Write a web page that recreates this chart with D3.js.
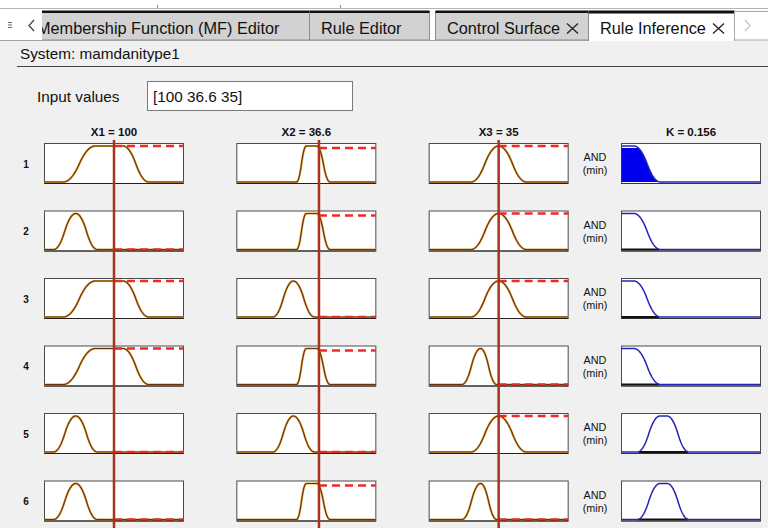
<!DOCTYPE html>
<html>
<head>
<meta charset="utf-8">
<script src="https://cdn.jsdelivr.net/npm/d3@7"></script>
<style>
  body { margin: 0; background: #f0f0f0; }
  svg { display: block; font-family: "Liberation Sans", Arial, sans-serif; }
</style>
</head>
<body>
<div class="main"></div>
<script>
const inputNames = ["X1", "X2", "X3"];
const inputValues = [100, 36.6, 35];
const inputRanges = [[0, 200], [34, 38.4], [0, 70]];
const outputName = "K";
const outputValue = 0.156;
const outputRange = [0, 1];
const ruleLabels = ["1", "2", "3", "4", "5", "6"];

// pi-shaped MF params [a, b, c, d]
const x1MFs = { low: [13, 45, 45, 76], high: [27, 73, 113, 150] };
const x2MFs = { normal: [35.14, 35.79, 35.79, 36.46], high: [35.89, 36.2, 36.53, 36.95] };
const x3MFs = { low: [16.5, 25.9, 25.9, 34], mid: [21, 35, 35, 49] };
const kMFs = { low: [0, 0, 0.09, 0.28], mid: [0.114, 0.277, 0.329, 0.484] };

// which MF each rule uses
const ruleX1 = ["high", "low", "high", "high", "low", "low"];
const ruleX2 = ["high", "high", "normal", "high", "normal", "high"];
const ruleX3 = ["mid", "mid", "mid", "low", "mid", "low"];
const ruleK = ["low", "low", "low", "low", "mid", "mid"];

const tabs = [
  { label: "Membership Function (MF) Editor", x0: 37, x1: 309, active: false, close: false },
  { label: "Rule Editor", x0: 309, x1: 429, active: false, close: false },
  { label: "Control Surface", x0: 435, x1: 588, active: false, close: true },
  { label: "Rule Inference", x0: 588, x1: 734, active: true, close: true }
];

function smf(x, a, b) {
  if (x >= b) return 1;
  if (x <= a) return 0;
  const t = (x - a) / (b - a);
  return t <= 0.5 ? 2 * t * t : 1 - 2 * (1 - t) * (1 - t);
}
function pimf(x, p) {
  return smf(x, p[0], p[1]) * (1 - smf(x, p[2], p[3]));
}

const rules = ruleLabels.map(function(lab, i) {
  const mfs = [x1MFs[ruleX1[i]], x2MFs[ruleX2[i]], x3MFs[ruleX3[i]]];
  const mu = mfs.map(function(p, j) { return pimf(inputValues[j], p); });
  return { label: lab, mfs: mfs, mu: mu, w: d3.min(mu), out: kMFs[ruleK[i]] };
});

const W = 768, H = 528;
const svg = d3.select(".main").append("svg")
  .attr("width", W).attr("height", H)
  .attr("viewBox", "0 0 " + W + " " + H);

svg.append("rect").attr("width", W).attr("height", H).attr("fill", "#f0f0f0");

// ---- tab strip ----
svg.append("rect").attr("x", 0).attr("y", 0).attr("width", W).attr("height", 40).attr("fill", "#fff");
svg.append("line").attr("x1", 0).attr("x2", W).attr("y1", 8.5).attr("y2", 8.5).attr("stroke", "#b4b4b4");
[157, 340].forEach(function(x) {
  svg.append("line").attr("x1", x + 0.5).attr("x2", x + 0.5).attr("y1", 5).attr("y2", 8).attr("stroke", "#8c8c8c");
});

const tabG = svg.append("g");
tabs.forEach(function(t) {
  tabG.append("rect")
    .attr("x", t.x0 + 0.5).attr("y", 11.5)
    .attr("width", t.x1 - t.x0).attr("height", t.active ? 29 : 28.5)
    .attr("fill", t.active ? "#fff" : "#d2d2d2")
    .attr("stroke", "#8e8e8e");
  tabG.append("rect")
    .attr("x", t.x0 + 0.5).attr("y", 10.5)
    .attr("width", t.x1 - t.x0).attr("height", t.active ? 3 : 2.5)
    .attr("fill", "#111");
  const tx = t.x0 === 37 ? 37 : t.x0 + 12;
  tabG.append("text")
    .attr("x", tx).attr("y", 34)
    .attr("font-size", 16.3).attr("fill", "#111")
    .text(t.label);
  if (t.close) {
    const cx = t.x1 - 15.5, cy = 28.5;
    tabG.append("path")
      .attr("d", "M" + (cx - 5.5) + "," + (cy - 5) + "L" + (cx + 5.5) + "," + (cy + 5) +
                 "M" + (cx + 5.5) + "," + (cy - 5) + "L" + (cx - 5.5) + "," + (cy + 5))
      .attr("stroke", "#222").attr("stroke-width", 1.3).attr("fill", "none");
  }
});
// cover the active tab bottom border
svg.append("rect").attr("x", 589).attr("y", 39).attr("width", 145).attr("height", 2).attr("fill", "#fff");

// left scroller
svg.append("rect").attr("x", 0).attr("y", 10).attr("width", 42).attr("height", 30).attr("fill", "#fff");
[22.5, 25, 27.5].forEach(function(y) {
  svg.append("line").attr("x1", 8).attr("x2", 12).attr("y1", y).attr("y2", y).attr("stroke", "#666").attr("stroke-width", 1);
});
svg.append("path").attr("d", "M34,20 L29,25.5 L34,31").attr("fill", "none").attr("stroke", "#444").attr("stroke-width", 1.3);

// right scroller
svg.append("rect").attr("x", 734.5).attr("y", 11.5).attr("width", 40).attr("height", 28.5)
  .attr("fill", "#fff").attr("stroke", "#a8a8a8");
svg.append("path").attr("d", "M745,20 L750,25.5 L745,31").attr("fill", "none").attr("stroke", "#c4c4c4").attr("stroke-width", 1.2);
svg.append("line").attr("x1", 0).attr("x2", 588).attr("y1", 40.5).attr("y2", 40.5).attr("stroke", "#a0a0a0");
svg.append("rect").attr("x", 0).attr("y", 41).attr("width", W).attr("height", 30).attr("fill", "#f0f0f0");

// ---- system header and input field ----
svg.append("text").attr("x", 20).attr("y", 59).attr("font-size", 15.3).attr("fill", "#111")
  .text("System: mamdanitype1");
svg.append("line").attr("x1", 17).attr("x2", W).attr("y1", 66.5).attr("y2", 66.5).attr("stroke", "#444");

svg.append("text").attr("x", 37).attr("y", 102).attr("font-size", 15.3).attr("fill", "#111")
  .text("Input values");
svg.append("rect").attr("x", 147.5).attr("y", 81.5).attr("width", 205).attr("height", 29)
  .attr("fill", "#fff").attr("stroke", "#7a7a7a");
svg.append("text").attr("x", 153).attr("y", 102).attr("font-size", 15.3).attr("fill", "#111")
  .text("[" + inputValues.join(" ") + "]");

// ---- rule viewer grid ----
const boxW = 139, boxH = 40;
const colScale = d3.scaleLinear().domain([0, 3]).range([44.5, 621.5]);
const rowScale = d3.scaleLinear().domain([0, 1]).range([143.5, 211]);

const titles = inputNames.map(function(n, j) { return n + " = " + inputValues[j]; })
  .concat([outputName + " = " + outputValue]);
svg.selectAll(".title").data(titles).enter().append("text")
  .attr("class", "title")
  .attr("x", function(d, j) { return colScale(j) + boxW / 2; })
  .attr("y", 135.5)
  .attr("text-anchor", "middle")
  .attr("font-size", 11.5).attr("font-weight", "bold").attr("fill", "#111")
  .text(function(d) { return d; });

function cellScales(j, i, dom) {
  const x0 = colScale(j), top = rowScale(i);
  return {
    x: d3.scaleLinear().domain(dom).range([x0, x0 + boxW]),
    y: d3.scaleLinear().domain([0, 1]).range([top + 38.5, top + 2.5]),
    x0: x0, top: top
  };
}
function samples(dom) {
  return d3.range(0, 281).map(function(k) { return dom[0] + (dom[1] - dom[0]) * k / 280; });
}

const grid = svg.append("g");
const redLines = svg.append("g");

rules.forEach(function(r, i) {
  const top = rowScale(i);
  grid.append("text")
    .attr("x", 26).attr("y", top + 24)
    .attr("text-anchor", "middle")
    .attr("font-size", 10).attr("font-weight", "bold").attr("fill", "#111")
    .text(r.label);

  // inputs
  r.mfs.forEach(function(p, j) {
    const s = cellScales(j, i, inputRanges[j]);
    grid.append("rect").attr("x", s.x0).attr("y", top).attr("width", boxW).attr("height", boxH)
      .attr("fill", "#fff").attr("stroke", "#4a4a4a");
    const pts = samples(inputRanges[j]);
    const line = d3.line().x(function(x) { return s.x(x); }).y(function(x) { return s.y(pimf(x, p)); });
    grid.append("path").attr("d", line(pts)).attr("fill", "none")
      .attr("stroke", "#d8a040").attr("stroke-width", 2.2);
    grid.append("path").attr("d", line(pts)).attr("fill", "none")
      .attr("stroke", "#6e3206").attr("stroke-width", 1.1);
    grid.append("line")
      .attr("x1", s.x(inputValues[j])).attr("x2", s.x0 + boxW)
      .attr("y1", s.y(r.mu[j])).attr("y2", s.y(r.mu[j]))
      .attr("stroke", "#f02828").attr("stroke-width", 2.4).attr("stroke-dasharray", "8,5");
    grid.append("line").attr("x1", s.x0).attr("x2", s.x0 + boxW)
      .attr("y1", top + boxH).attr("y2", top + boxH).attr("stroke", "#222").attr("stroke-width", 1.2);
  });

  // AND (min)
  grid.append("text").attr("x", 595).attr("y", top + 17.5).attr("text-anchor", "middle")
    .attr("font-size", 10.8).attr("fill", "#111").text("AND");
  grid.append("text").attr("x", 595).attr("y", top + 30.5).attr("text-anchor", "middle")
    .attr("font-size", 10.8).attr("fill", "#111").text("(min)");

  // output
  const s = cellScales(3, i, outputRange);
  grid.append("rect").attr("x", s.x0).attr("y", top).attr("width", boxW).attr("height", boxH)
    .attr("fill", "#fff").attr("stroke", "#4a4a4a");
  const pts = samples(outputRange);
  const support = pts.filter(function(x) { return pimf(x, r.out) > 0.002; });
  if (r.w > 0) {
    const area = d3.area().x(function(x) { return s.x(x); })
      .y0(s.y(0)).y1(function(x) { return s.y(Math.min(r.w, pimf(x, r.out))); });
    grid.append("path").attr("d", area(pts)).attr("fill", "#0000f0");
  } else {
    grid.append("line")
      .attr("x1", s.x(d3.min(support))).attr("x2", s.x(d3.max(support)))
      .attr("y1", s.y(0)).attr("y2", s.y(0))
      .attr("stroke", "#111").attr("stroke-width", 1.8);
  }
  const oline = d3.line().x(function(x) { return s.x(x); }).y(function(x) { return s.y(pimf(x, r.out)); });
  grid.append("path").attr("d", oline(pts)).attr("fill", "none")
    .attr("stroke", "#2424b8").attr("stroke-width", 1.5);
  grid.append("line").attr("x1", s.x0).attr("x2", s.x0 + boxW)
    .attr("y1", top + boxH).attr("y2", top + boxH).attr("stroke", "#333").attr("stroke-width", 1);
});

// input value markers
inputValues.forEach(function(v, j) {
  const s = cellScales(j, 0, inputRanges[j]);
  redLines.append("line")
    .attr("x1", s.x(v)).attr("x2", s.x(v))
    .attr("y1", 140).attr("y2", H)
    .attr("stroke", "#a8321c").attr("stroke-width", 2.5);
});
</script>
</body>
</html>
